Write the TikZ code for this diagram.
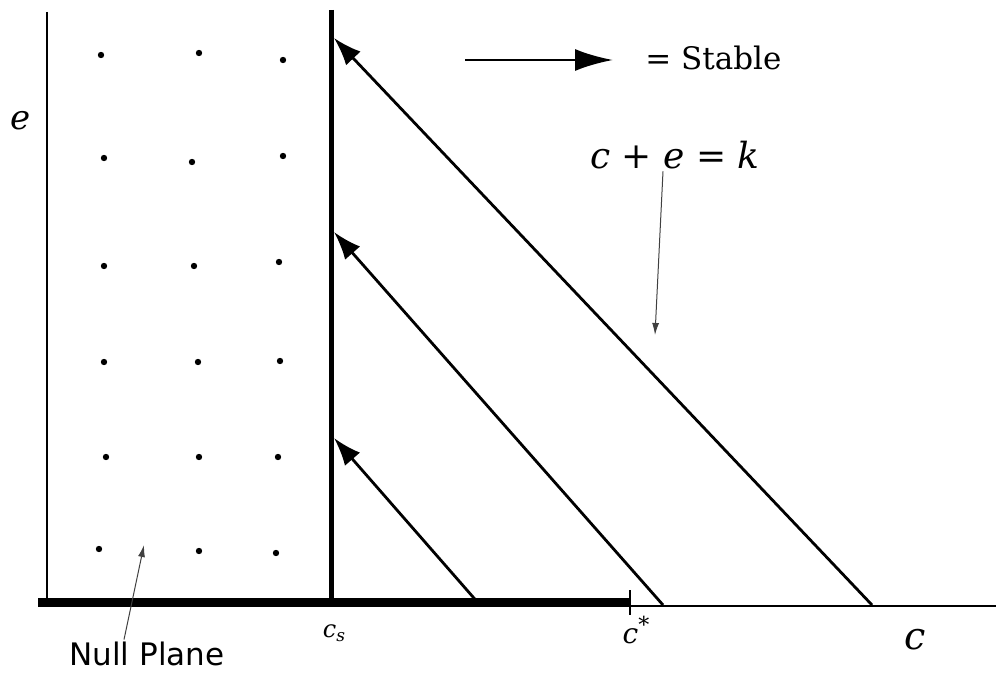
\documentclass[tikz,border=0pt]{standalone}
\usepackage{fontspec}
\setmainfont{DejaVu Serif}
\newfontfamily\plainsans{DejaVu Sans}
\usetikzlibrary{arrows.meta, positioning}

\begin{document}
\begin{tikzpicture}[
  x=0.5pt, y=-0.5pt,
  axis/.style={line width=1pt},
  wall/.style={line width=2.5pt},
  floor/.style={line width=4.2pt},
  flow/.style={-{Latex[length=14pt, width=10pt]}, line width=1.4pt},
  key/.style={-{Latex[length=19pt, width=11pt]}, line width=1.4pt},
  pointer/.style={-{Latex[length=6pt, width=3.5pt]}, line width=0.5pt, black!75},
  lattice/.style={circle, fill, inner sep=0pt, minimum size=3.2pt},
  lab/.style={inner sep=1pt}
]
\useasboundingbox (0,0) rectangle (996,674);

% axes and the stable boundary
\coordinate (etop) at (47,12);
\coordinate (orig) at (47,606);
\coordinate (cend) at (996,606);
\coordinate (fleft) at (38,602);
\coordinate (cstar) at (630,602);
\coordinate (wtop) at (331,10);
\coordinate (wbot) at (331,602);
\draw[axis] (etop) -- (orig);
\draw[axis] (fleft |- orig) -- (cend);
\draw[floor] (fleft) -- (cstar);
\draw[wall] (wtop) -- (wbot);
\draw[line width=1.2pt] (630,590) -- (630,615);

% null plane lattice
\foreach \px/\py [count=\i] in {101/55, 199/53, 283/60,
    104/158, 192/162, 283/156,
    104/266, 194/266, 279/262,
    104/362, 198/362, 280/361,
    106/457, 199/457, 278/457,
    99/549, 199/551, 276/553}
  \node[lattice] (pt\i) at (\px,\py) {};

% lines c + e = k
\coordinate (k1) at (480,605);
\coordinate (k2) at (663,605);
\coordinate (k3) at (872,605);
\coordinate (s1) at (334,438);
\coordinate (s2) at (334,232);
\coordinate (s3) at (334,38);
\draw[flow] (k1) -- (s1);
\draw[flow] (k2) -- (s2);
\draw[flow] (k3) -- (s3);

% legend
\coordinate (keyA) at (465,60);
\coordinate (keyB) at (613,60);
\draw[key] (keyA) -- (keyB);
\node[lab, font=\fontsize{15.5}{18}\selectfont, anchor=west] (stable) at (643,58) {= Stable};

\node[lab, font=\fontsize{18}{21}\selectfont] (eqn) at (675,155) {\textit{c} + \textit{e} = \textit{k}};
\coordinate (eqtip) at (655,335);
\draw[pointer] (eqn.south -| 663,0) -- (eqtip);

% axis labels
\node[lab, font=\fontsize{17}{20}\selectfont\itshape] (elab) at (21,121) {e};
\node[lab, font=\fontsize{19}{22}\selectfont\itshape] (clab) at (915,640) {c};
\node[lab, font=\fontsize{12}{14}\selectfont\itshape] (cslab) at (334,633) {c\raisebox{-0.35ex}{\fontsize{8.5}{9}\selectfont s}};
\node[lab, font=\fontsize{14}{17}\selectfont\itshape] (cstarlab) at (636,630) {c\raisebox{0.8ex}{\fontsize{11}{12}\selectfont\upshape *}};

\node[lab, font=\fontsize{15.5}{18}\plainsans\selectfont] (null) at (147,654) {Null Plane};
\coordinate (nulltip) at (144,545);
\draw[pointer] (null.north -| 124,0) -- (nulltip);

\end{tikzpicture}
\end{document}
